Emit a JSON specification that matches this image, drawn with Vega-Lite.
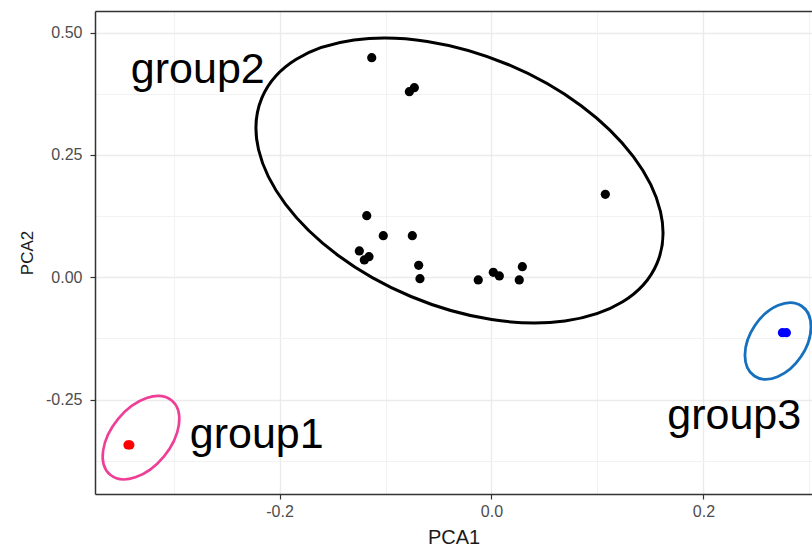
{
  "$schema": "https://vega.github.io/schema/vega-lite/v6.json",
  "width": 717,
  "height": 483,
  "autosize": {"type": "none"},
  "padding": {"left": 95, "top": 11, "right": 0, "bottom": 56},
  "background": "white",
  "config": {
    "view": {"stroke": null},
    "font": "Liberation Sans",
    "axis": {"labelFont": "Liberation Sans", "titleFont": "Liberation Sans"}
  },
  "datasets": {
    "points": [
      {"group": "group2", "PCA1": -0.1130, "PCA2": 0.4488},
      {"group": "group2", "PCA1": -0.0775, "PCA2": 0.3793},
      {"group": "group2", "PCA1": -0.0728, "PCA2": 0.3875},
      {"group": "group2", "PCA1": 0.1074, "PCA2": 0.1696},
      {"group": "group2", "PCA1": -0.1177, "PCA2": 0.1259},
      {"group": "group2", "PCA1": -0.1021, "PCA2": 0.0850},
      {"group": "group2", "PCA1": -0.0747, "PCA2": 0.0850},
      {"group": "group2", "PCA1": -0.1247, "PCA2": 0.0538},
      {"group": "group2", "PCA1": -0.1156, "PCA2": 0.0421},
      {"group": "group2", "PCA1": -0.1200, "PCA2": 0.0354},
      {"group": "group2", "PCA1": -0.0687, "PCA2": 0.0245},
      {"group": "group2", "PCA1": -0.0675, "PCA2": -0.0029},
      {"group": "group2", "PCA1": -0.0125, "PCA2": -0.0055},
      {"group": "group2", "PCA1": 0.0017, "PCA2": 0.0102},
      {"group": "group2", "PCA1": 0.0074, "PCA2": 0.0027},
      {"group": "group2", "PCA1": 0.0291, "PCA2": 0.0217},
      {"group": "group2", "PCA1": 0.0262, "PCA2": -0.0055},
      {"group": "group1", "PCA1": -0.3430, "PCA2": -0.3427},
      {"group": "group1", "PCA1": -0.3412, "PCA2": -0.3427},
      {"group": "group3", "PCA1": 0.2745, "PCA2": -0.1132},
      {"group": "group3", "PCA1": 0.2782, "PCA2": -0.1132}
    ],
    "ellipses": [
      {"group": "group1", "PCA1": -0.3307, "PCA2": -0.3278},
      {"group": "group2", "PCA1": -0.0302, "PCA2": 0.1978},
      {"group": "group3", "PCA1": 0.2703, "PCA2": -0.1302}
    ],
    "labels": [
      {"label": "group1", "PCA1": -0.2215, "PCA2": -0.3495},
      {"label": "group2", "PCA1": -0.2771, "PCA2": 0.3977},
      {"label": "group3", "PCA1": 0.2290, "PCA2": -0.3100}
    ]
  },
  "layer": [
    {
      "data": {"name": "ellipses"},
      "transform": [{"filter": "datum.group === 'group2'"}],
      "mark": {
        "type": "point",
        "filled": false,
        "stroke": "#000000",
        "strokeWidth": 3,
        "opacity": 1,
        "size": 183552,
        "angle": 22.7,
        "shape": "M -1 0 C -1 -0.3242 -0.5523 -0.587 0 -0.587 C 0.5523 -0.587 1 -0.3242 1 0 C 1 0.3242 0.5523 0.587 0 0.587 C -0.5523 0.587 -1 0.3242 -1 0 Z"
      },
      "encoding": {
        "x": {"field": "PCA1", "type": "quantitative", "axis": null},
        "y": {"field": "PCA2", "type": "quantitative", "axis": null}
      }
    },
    {
      "data": {"name": "ellipses"},
      "transform": [{"filter": "datum.group === 'group1'"}],
      "mark": {
        "type": "point",
        "filled": false,
        "stroke": "#EE3E95",
        "strokeWidth": 2.6,
        "opacity": 1,
        "size": 9312,
        "angle": -50.4,
        "shape": "M -1 0 C -1 -0.3391 -0.5523 -0.614 0 -0.614 C 0.5523 -0.614 1 -0.3391 1 0 C 1 0.3391 0.5523 0.614 0 0.614 C -0.5523 0.614 -1 0.3391 -1 0 Z"
      },
      "encoding": {
        "x": {"field": "PCA1", "type": "quantitative", "axis": null},
        "y": {"field": "PCA2", "type": "quantitative", "axis": null}
      }
    },
    {
      "data": {"name": "ellipses"},
      "transform": [{"filter": "datum.group === 'group3'"}],
      "mark": {
        "type": "point",
        "filled": false,
        "stroke": "#1670BE",
        "strokeWidth": 2.8,
        "opacity": 1,
        "size": 7124,
        "angle": -56,
        "shape": "M -1 0 C -1 -0.3645 -0.5523 -0.66 0 -0.66 C 0.5523 -0.66 1 -0.3645 1 0 C 1 0.3645 0.5523 0.66 0 0.66 C -0.5523 0.66 -1 0.3645 -1 0 Z"
      },
      "encoding": {
        "x": {"field": "PCA1", "type": "quantitative", "axis": null},
        "y": {"field": "PCA2", "type": "quantitative", "axis": null}
      }
    },
    {
      "data": {"name": "points"},
      "mark": {"type": "point", "filled": true, "opacity": 1, "size": 85, "strokeWidth": 0},
      "encoding": {
        "x": {
          "field": "PCA1",
          "type": "quantitative",
          "scale": {"domain": [-0.3741, 0.3024], "nice": false, "zero": false},
          "axis": {
            "orient": "bottom",
            "title": "PCA1",
            "values": [-0.2, 0, 0.2],
            "labelExpr": "replace(format(datum.value, '.1f'), '\u2212', '-')",
            "grid": true,
            "gridColor": "#EBEBEB",
            "gridWidth": 1.4,
            "domain": true,
            "domainColor": "#333333",
            "domainWidth": 1.5,
            "ticks": true,
            "tickColor": "#333333",
            "tickWidth": 1.2,
            "tickSize": 5,
            "labelColor": "#4D4D4D",
            "labelFontSize": 16,
            "labelPadding": 4,
            "titleColor": "#1A1A1A",
            "titleFontSize": 20,
            "titleFontWeight": "normal",
            "titlePadding": 8
          }
        },
        "y": {
          "field": "PCA2",
          "type": "quantitative",
          "scale": {"domain": [-0.4429, 0.5442], "nice": false, "zero": false},
          "axis": {
            "orient": "left",
            "title": "PCA2",
            "values": [-0.25, 0, 0.25, 0.5],
            "labelExpr": "replace(format(datum.value, '.2f'), '\u2212', '-')",
            "grid": true,
            "gridColor": "#EBEBEB",
            "gridWidth": 1.4,
            "domain": true,
            "domainColor": "#333333",
            "domainWidth": 1.5,
            "ticks": true,
            "tickColor": "#333333",
            "tickWidth": 1.2,
            "tickSize": 5,
            "labelColor": "#4D4D4D",
            "labelFontSize": 16,
            "labelPadding": 8,
            "titleColor": "#1A1A1A",
            "titleFontSize": 17,
            "titleFontWeight": "normal",
            "titlePadding": 9
          }
        },
        "color": {
          "field": "group",
          "type": "nominal",
          "scale": {"domain": ["group1", "group2", "group3"], "range": ["#FF0000", "#000000", "#0000FF"]},
          "legend": null
        }
      }
    },
    {
      "data": {"name": "labels"},
      "mark": {"type": "text", "font": "Liberation Sans", "fontSize": 43, "align": "center", "baseline": "alphabetic", "color": "#000000"},
      "encoding": {
        "x": {
          "field": "PCA1",
          "type": "quantitative",
          "axis": {
            "orient": "top",
            "title": null,
            "values": [-0.3, -0.1, 0.1, 0.3],
            "grid": true,
            "gridColor": "#F2F2F2",
            "gridWidth": 1,
            "domain": true,
            "domainColor": "#333333",
            "domainWidth": 1.5,
            "ticks": false,
            "labels": false
          }
        },
        "y": {
          "field": "PCA2",
          "type": "quantitative",
          "axis": {
            "orient": "right",
            "title": null,
            "values": [-0.375, -0.125, 0.125, 0.375],
            "grid": true,
            "gridColor": "#F2F2F2",
            "gridWidth": 1,
            "domain": false,
            "ticks": false,
            "labels": false
          }
        },
        "text": {"field": "label", "type": "nominal"}
      }
    }
  ],
  "resolve": {"axis": {"x": "independent", "y": "independent"}}
}
